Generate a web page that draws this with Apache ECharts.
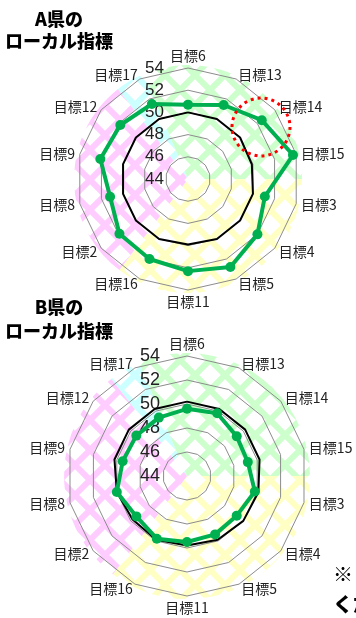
<!DOCTYPE html>
<html>
<head>
<meta charset="utf-8">
<script src="https://cdn.jsdelivr.net/npm/echarts@6/dist/echarts.min.js"></script>
<style>
  html, body { margin: 0; padding: 0; background: #fff; }
  #main { width: 356px; height: 618px; }
</style>
</head>
<body>
<div id="main"></div>
<script>
// 目標 (clockwise from the top)
var goals = ['目標6', '目標13', '目標14', '目標15', '目標3', '目標4', '目標5',
             '目標11', '目標16', '目標2', '目標8', '目標9', '目標12', '目標17'];
var tickMin = 44, tickMax = 54;

// A県
var prefA = [50.7, 51.4, 52.5, 53.7, 51.1, 52.0, 52.8, 52.3, 52.0, 51.9, 51.2, 52.1, 51.8, 51.5];
var baseA = [50.0, 50.0, 50.0, 49.9, 50.0, 50.0, 50.0, 49.9, 50.0, 50.0, 50.0, 50.0, 50.0, 50.0];
// B県
var prefB = [49.6, 49.8, 49.3, 49.2, 49.8, 49.3, 49.4, 49.5, 49.8, 49.4, 50.0, 49.5, 49.4, 49.4];
var baseB = [50.2, 50.2, 50.2, 50.2, 50.1, 50.0, 49.9, 49.8, 49.9, 49.8, 50.0, 50.2, 50.2, 50.2];

// 背景の斜線エリア
var hatchNames = ['cyan', 'green', 'yellow', 'pink'];
var hatchSpan = [15, 113, 127, 105];
var hatchColors = ['#ccffff', '#ccffcc', '#ffffc4', '#ffccff'];

var FONT = '"Noto Sans CJK JP", sans-serif';

// radar draws counterclockwise, so flip the order
function ccw(arr) {
    return [arr[0]].concat(arr.slice(1).reverse());
}

function hatch(color) {
    var s = 30;
    var c = document.createElement('canvas');
    c.width = s; c.height = s;
    var g = c.getContext('2d');
    g.strokeStyle = color;
    g.lineWidth = 6;
    for (var o = -s; o <= s; o += s) {
        g.beginPath();
        g.moveTo(o, 0); g.lineTo(o + s, s);
        g.moveTo(o + s, 0); g.lineTo(o, s);
        g.stroke();
    }
    return c;
}

function radarOpt(cx, cy, r, labelSize, margin) {
    return {
        center: [cx, cy],
        radius: r,
        startAngle: 90,
        shape: 'polygon',
        splitNumber: 5,
        z: 1,
        indicator: ccw(goals).map(function (n, i) {
            return { name: n, min: tickMin, max: tickMax, axisLabel: { show: i === 0 } };
        }),
        nameGap: 5,
        axisName: { color: '#222', fontSize: 14, fontFamily: FONT },
        axisLine: { show: false },
        axisTick: { show: false },
        axisLabel: {
            show: true, margin: margin, color: '#222',
            fontSize: labelSize, fontFamily: '"Liberation Sans Narrow", "Liberation Sans", sans-serif'
        },
        splitLine: { lineStyle: { color: '#8c8c8c', width: 1 } },
        splitArea: { show: false }
    };
}

function hatchPie(cx, cy, r) {
    return {
        type: 'pie',
        center: [cx, cy],
        radius: [0, r],
        startAngle: 128,
        silent: true,
        z: 0,
        label: { show: false },
        labelLine: { show: false },
        emphasis: { disabled: true },
        data: hatchSpan.map(function (v, i) {
            return {
                value: v, name: hatchNames[i],
                itemStyle: { color: { image: hatch(hatchColors[i]), repeat: 'repeat' }, borderWidth: 0 }
            };
        })
    };
}

function lines(radarIndex, base, pref) {
    return [{
        type: 'radar', radarIndex: radarIndex, z: 2,
        symbol: 'none',
        lineStyle: { color: '#000', width: 2 },
        data: [{ value: ccw(base), name: 'base' }]
    }, {
        type: 'radar', radarIndex: radarIndex, z: 3,
        symbol: 'circle', symbolSize: 10,
        itemStyle: { color: '#00b050' },
        lineStyle: { color: '#00b050', width: 4 },
        data: [{ value: ccw(pref), name: 'pref' }]
    }];
}

var myChart = echarts.init(document.getElementById('main'));
var option = {
    backgroundColor: '#fff',
    animation: false,
    radar: [
        radarOpt(188, 179, 111, 17, 24),
        radarOpt(187, 476, 120, 18, 27)
    ],
    series: [hatchPie(188, 179, 114), hatchPie(187, 476, 123)]
        .concat(lines(0, baseA, prefA))
        .concat(lines(1, baseB, prefB)),
    graphic: [{
        type: 'text', x: 59, y: 30, z: 10,
        style: { text: 'A県の\nローカル指標', fill: '#000', font: '900 18px ' + FONT,
                 textAlign: 'center', textVerticalAlign: 'middle', lineHeight: 22 }
    }, {
        type: 'text', x: 59, y: 319, z: 10,
        style: { text: 'B県の\nローカル指標', fill: '#000', font: '900 18px ' + FONT,
                 textAlign: 'center', textVerticalAlign: 'middle', lineHeight: 24 }
    }, {
        type: 'text', x: 333, y: 589, z: 10,
        style: { text: '※\nくだ', fill: '#000', font: '900 20px ' + FONT,
                 textAlign: 'left', textVerticalAlign: 'middle', lineHeight: 30 }
    }, {
        type: 'circle', z: 10,
        shape: { cx: 261, cy: 127, r: 29 },
        style: { fill: 'none', stroke: '#ff0000', lineWidth: 3, lineDash: [3, 4] }
    }]
};
myChart.setOption(option);
</script>
</body>
</html>
